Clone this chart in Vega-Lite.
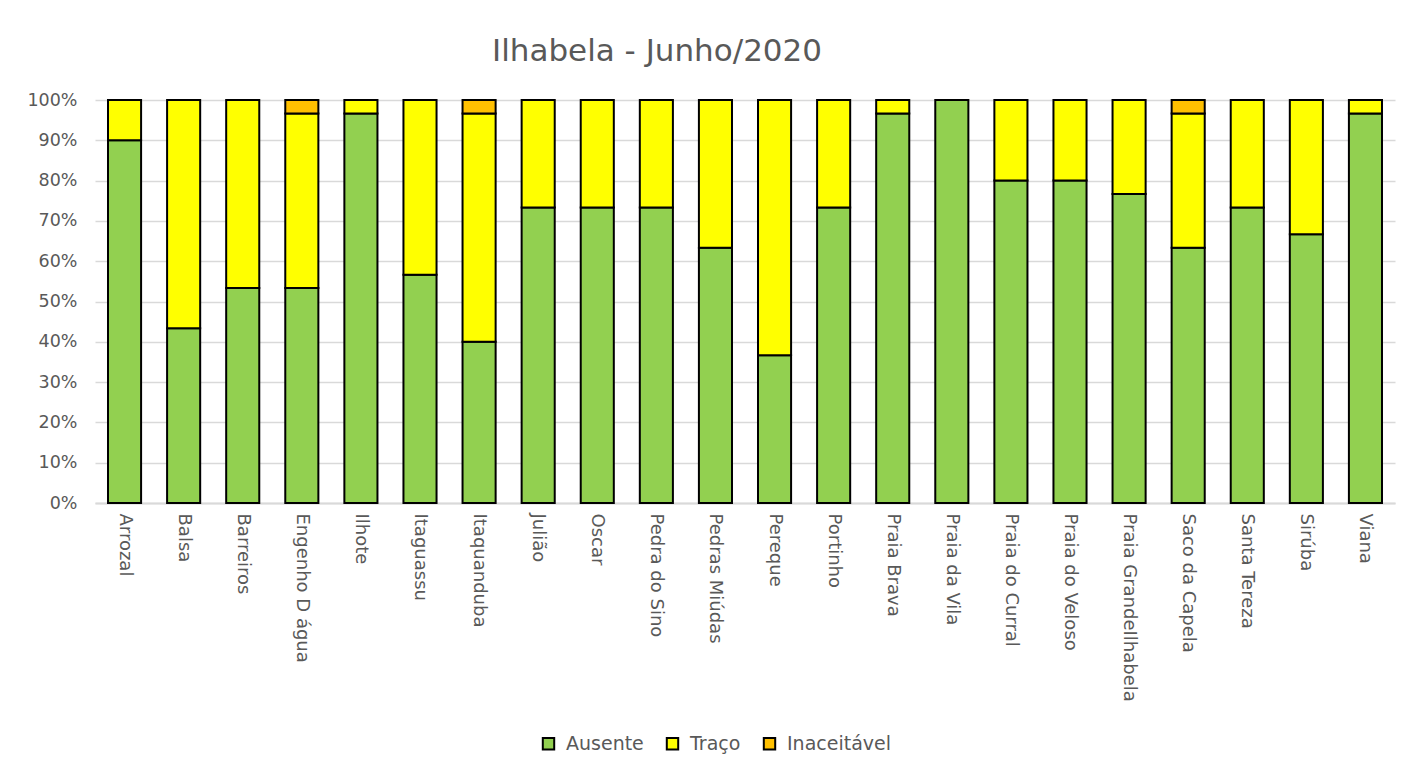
{
  "$schema": "https://vega.github.io/schema/vega-lite/v6.json",
  "width": 1300,
  "height": 403,
  "autosize": {"type": "none"},
  "padding": {"left": 95, "top": 100, "right": 19, "bottom": 273},
  "background": "white",
  "title": {
    "text": "Ilhabela - Junho/2020",
    "font": "DejaVu Sans",
    "fontSize": 31,
    "fontWeight": "normal",
    "color": "#595959",
    "anchor": "middle",
    "dx": -88,
    "offset": 23
  },
  "data": {
    "values": [
      {"local": "Arrozal", "cat": "Ausente", "n": 27},
      {"local": "Arrozal", "cat": "Traço", "n": 3},
      {"local": "Balsa", "cat": "Ausente", "n": 13},
      {"local": "Balsa", "cat": "Traço", "n": 17},
      {"local": "Barreiros", "cat": "Ausente", "n": 16},
      {"local": "Barreiros", "cat": "Traço", "n": 14},
      {"local": "Engenho D água", "cat": "Ausente", "n": 16},
      {"local": "Engenho D água", "cat": "Traço", "n": 13},
      {"local": "Engenho D água", "cat": "Inaceitável", "n": 1},
      {"local": "Ilhote", "cat": "Ausente", "n": 29},
      {"local": "Ilhote", "cat": "Traço", "n": 1},
      {"local": "Itaguassu", "cat": "Ausente", "n": 17},
      {"local": "Itaguassu", "cat": "Traço", "n": 13},
      {"local": "Itaquanduba", "cat": "Ausente", "n": 12},
      {"local": "Itaquanduba", "cat": "Traço", "n": 17},
      {"local": "Itaquanduba", "cat": "Inaceitável", "n": 1},
      {"local": "Julião", "cat": "Ausente", "n": 22},
      {"local": "Julião", "cat": "Traço", "n": 8},
      {"local": "Oscar", "cat": "Ausente", "n": 22},
      {"local": "Oscar", "cat": "Traço", "n": 8},
      {"local": "Pedra do Sino", "cat": "Ausente", "n": 22},
      {"local": "Pedra do Sino", "cat": "Traço", "n": 8},
      {"local": "Pedras Miúdas", "cat": "Ausente", "n": 19},
      {"local": "Pedras Miúdas", "cat": "Traço", "n": 11},
      {"local": "Pereque", "cat": "Ausente", "n": 11},
      {"local": "Pereque", "cat": "Traço", "n": 19},
      {"local": "Portinho", "cat": "Ausente", "n": 22},
      {"local": "Portinho", "cat": "Traço", "n": 8},
      {"local": "Praia Brava", "cat": "Ausente", "n": 29},
      {"local": "Praia Brava", "cat": "Traço", "n": 1},
      {"local": "Praia da Vila", "cat": "Ausente", "n": 30},
      {"local": "Praia do Curral", "cat": "Ausente", "n": 24},
      {"local": "Praia do Curral", "cat": "Traço", "n": 6},
      {"local": "Praia do Veloso", "cat": "Ausente", "n": 24},
      {"local": "Praia do Veloso", "cat": "Traço", "n": 6},
      {"local": "Praia GrandeIlhabela", "cat": "Ausente", "n": 23},
      {"local": "Praia GrandeIlhabela", "cat": "Traço", "n": 7},
      {"local": "Saco da Capela", "cat": "Ausente", "n": 19},
      {"local": "Saco da Capela", "cat": "Traço", "n": 10},
      {"local": "Saco da Capela", "cat": "Inaceitável", "n": 1},
      {"local": "Santa Tereza", "cat": "Ausente", "n": 22},
      {"local": "Santa Tereza", "cat": "Traço", "n": 8},
      {"local": "Sirúba", "cat": "Ausente", "n": 20},
      {"local": "Sirúba", "cat": "Traço", "n": 10},
      {"local": "Viana", "cat": "Ausente", "n": 29},
      {"local": "Viana", "cat": "Traço", "n": 1}
    ]
  },
  "transform": [
    {"calculate": "indexof(['Ausente','Traço','Inaceitável'], datum.cat)", "as": "ord"}
  ],
  "mark": {"type": "bar", "stroke": "black", "strokeWidth": 2},
  "encoding": {
    "x": {
      "field": "local",
      "type": "nominal",
      "sort": null,
      "title": null,
      "scale": {"paddingInner": 0.44, "paddingOuter": 0.22},
      "axis": {
        "labelAngle": 90,
        "labelAlign": "left",
        "labelBaseline": "middle",
        "labelFont": "DejaVu Sans",
        "labelFontSize": 18,
        "labelColor": "#595959",
        "labelPadding": 10,
        "labelLimit": 400,
        "ticks": false,
        "domainColor": "#D9D9D9",
        "domainWidth": 2,
        "grid": false
      }
    },
    "y": {
      "field": "n",
      "type": "quantitative",
      "stack": "normalize",
      "title": null,
      "scale": {"domain": [0, 1]},
      "axis": {
        "format": ".0%",
        "values": [0, 0.1, 0.2, 0.3, 0.4, 0.5, 0.6, 0.7, 0.8, 0.9, 1],
        "labelFont": "DejaVu Sans",
        "labelFontSize": 17.5,
        "labelColor": "#595959",
        "labelPadding": 18,
        "ticks": false,
        "domain": false,
        "gridColor": "#D9D9D9",
        "gridWidth": 1.5
      }
    },
    "color": {
      "field": "cat",
      "type": "nominal",
      "scale": {
        "domain": ["Ausente", "Traço", "Inaceitável"],
        "range": ["#92D050", "#FFFF00", "#FFC000"]
      },
      "legend": {
        "title": null,
        "orient": "none",
        "direction": "horizontal",
        "legendX": 444,
        "legendY": 634,
        "symbolType": "square",
        "symbolSize": 130,
        "symbolStrokeColor": "black",
        "symbolStrokeWidth": 2,
        "labelFont": "DejaVu Sans",
        "labelFontSize": 19,
        "labelColor": "#595959",
        "labelOffset": 8,
        "columnPadding": 18
      }
    },
    "order": {"field": "ord", "type": "quantitative"}
  },
  "config": {"view": {"stroke": null}}
}
